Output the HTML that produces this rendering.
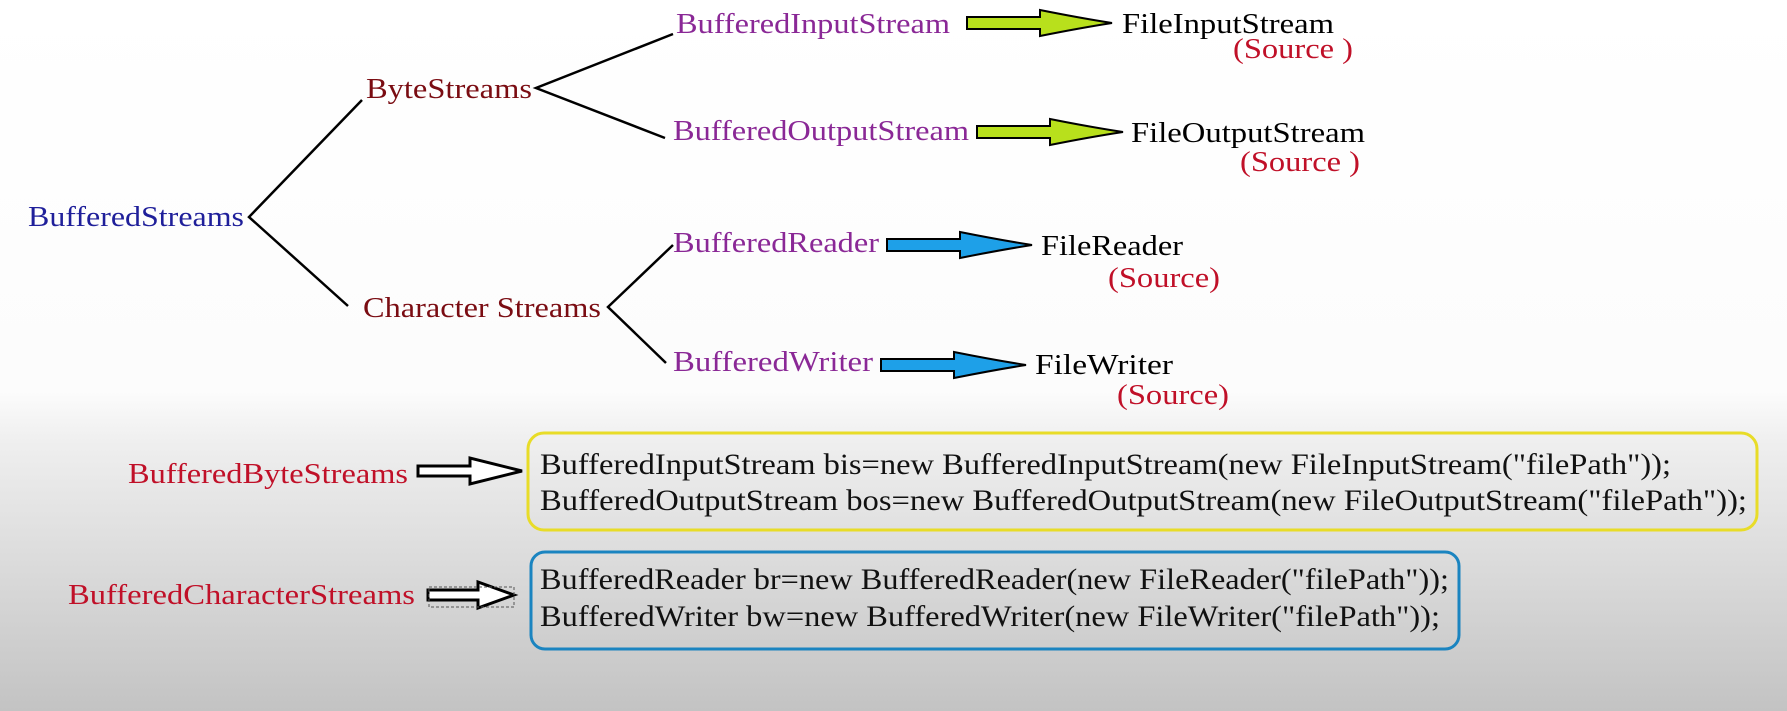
<!DOCTYPE html>
<html><head><meta charset="utf-8"><style>
html,body{margin:0;padding:0;width:1787px;height:711px;overflow:hidden;}
svg{display:block}
text{font-family:"Liberation Serif",serif;}
</style></head><body>
<svg width="1787" height="711" viewBox="0 0 1787 711" xmlns="http://www.w3.org/2000/svg">
<defs>
<linearGradient id="bg" x1="0" y1="0" x2="0" y2="1">
<stop offset="0" stop-color="#ffffff"/>
<stop offset="0.55" stop-color="#fcfcfc"/>
<stop offset="0.62" stop-color="#efefef"/>
<stop offset="1" stop-color="#c3c3c3"/>
</linearGradient>
</defs>
<rect width="1787" height="711" fill="url(#bg)"/>
<g stroke="#000" stroke-width="2.5" fill="none">
<polyline points="362,100 249,217 348,306"/>
<polyline points="673,34 536,88 665,138"/>
<polyline points="673,245 608,307 666,363"/>
</g>
<g font-size="29">
<text x="28" y="226" fill="#1f1f9a" textLength="216" lengthAdjust="spacingAndGlyphs">BufferedStreams</text>
<text x="366" y="98" fill="#7a0c12" textLength="166" lengthAdjust="spacingAndGlyphs">ByteStreams</text>
<text x="363" y="317" fill="#7a0c12" textLength="238" lengthAdjust="spacingAndGlyphs">Character Streams</text>
<text x="676" y="33" fill="#8a2896" textLength="274" lengthAdjust="spacingAndGlyphs">BufferedInputStream</text>
<text x="673" y="140" fill="#8a2896" textLength="296" lengthAdjust="spacingAndGlyphs">BufferedOutputStream</text>
<text x="673" y="252" fill="#8a2896" textLength="206" lengthAdjust="spacingAndGlyphs">BufferedReader</text>
<text x="673" y="371" fill="#8a2896" textLength="200" lengthAdjust="spacingAndGlyphs">BufferedWriter</text>
<text x="1122" y="33" fill="#000" textLength="212" lengthAdjust="spacingAndGlyphs">FileInputStream</text>
<text x="1131" y="142" fill="#000" textLength="234" lengthAdjust="spacingAndGlyphs">FileOutputStream</text>
<text x="1041" y="255" fill="#000" textLength="142" lengthAdjust="spacingAndGlyphs">FileReader</text>
<text x="1035" y="374" fill="#000" textLength="138" lengthAdjust="spacingAndGlyphs">FileWriter</text>
<g fill="#c01028">
<text x="1233" y="58" textLength="120" lengthAdjust="spacingAndGlyphs">(Source )</text>
<text x="1240" y="171" textLength="120" lengthAdjust="spacingAndGlyphs">(Source )</text>
<text x="1108" y="287" textLength="112" lengthAdjust="spacingAndGlyphs">(Source)</text>
<text x="1117" y="404" textLength="112" lengthAdjust="spacingAndGlyphs">(Source)</text>
<text x="128" y="483" textLength="280" lengthAdjust="spacingAndGlyphs">BufferedByteStreams</text>
<text x="68" y="604" textLength="347" lengthAdjust="spacingAndGlyphs">BufferedCharacterStreams</text>
</g>
</g>
<g stroke="#000" stroke-width="2">
<path d="M967,17 H1040 V10 Q1080,18 1112,23 Q1080,28 1040,36 V29 H967 Z" fill="#b8e01c"/>
<path d="M977,126 H1050 V119 Q1090,127 1123,132 Q1090,137 1050,145 V138 H977 Z" fill="#b8e01c"/>
<path d="M887,239 H960 V232 Q1000,240 1032,245 Q1000,250 960,258 V251 H887 Z" fill="#1ea0e8"/>
<path d="M881,359 H954 V352 Q994,360 1026,365 Q994,370 954,378 V371 H881 Z" fill="#1ea0e8"/>
</g>
<g stroke="#000" stroke-width="3" fill="#fff">
<path d="M418,466 H470 V458 L522,471 L470,484 V476 H418 Z"/>
<path d="M428,590 H478 V582 L514,595 L478,608 V600 H428 Z"/>
</g>
<rect x="429" y="587" width="85" height="20" fill="none" stroke="#555" stroke-width="1" stroke-dasharray="3,2"/>
<rect x="528" y="433" width="1229" height="97" rx="16" fill="none" stroke="#e8dc28" stroke-width="3"/>
<rect x="531" y="552" width="928" height="97" rx="14" fill="none" stroke="#1a84c0" stroke-width="3"/>
<g font-size="30" fill="#111">
<text x="540" y="474" textLength="1131" lengthAdjust="spacingAndGlyphs">BufferedInputStream bis=new BufferedInputStream(new FileInputStream("filePath"));</text>
<text x="540" y="510" textLength="1207" lengthAdjust="spacingAndGlyphs">BufferedOutputStream bos=new BufferedOutputStream(new FileOutputStream("filePath"));</text>
<text x="540" y="589" textLength="909" lengthAdjust="spacingAndGlyphs">BufferedReader br=new BufferedReader(new FileReader("filePath"));</text>
<text x="540" y="626" textLength="900" lengthAdjust="spacingAndGlyphs">BufferedWriter bw=new BufferedWriter(new FileWriter("filePath"));</text>
</g>
</svg>
</body></html>
